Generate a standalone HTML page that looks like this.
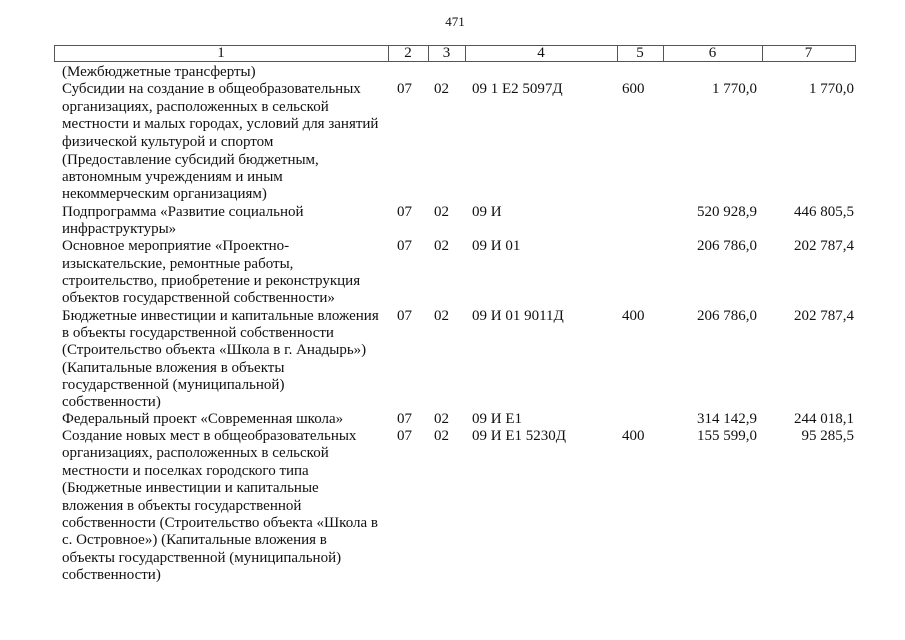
<!DOCTYPE html>
<html><head><meta charset="utf-8"><style>
body{margin:0;width:905px;height:640px;background:#fff;position:relative;overflow:hidden;font-family:"Liberation Serif",serif;font-size:15px;color:#111}
.t{position:absolute;white-space:nowrap;line-height:18px}
.r{text-align:right}
.c{text-align:center}
.ln{position:absolute;background:#555}
</style></head><body>
<div class="t c" style="left:430px;width:50px;top:13px;font-size:13px">471</div>
<div class="ln" style="left:54px;top:45px;width:802px;height:1px"></div>
<div class="ln" style="left:54px;top:61px;width:802px;height:1px"></div>
<div class="ln" style="left:54px;top:45px;width:1px;height:17px"></div>
<div class="ln" style="left:388px;top:45px;width:1px;height:17px"></div>
<div class="ln" style="left:428px;top:45px;width:1px;height:17px"></div>
<div class="ln" style="left:465px;top:45px;width:1px;height:17px"></div>
<div class="ln" style="left:617px;top:45px;width:1px;height:17px"></div>
<div class="ln" style="left:663px;top:45px;width:1px;height:17px"></div>
<div class="ln" style="left:762px;top:45px;width:1px;height:17px"></div>
<div class="ln" style="left:855px;top:45px;width:1px;height:17px"></div>
<div class="t c" style="left:54px;width:334px;top:44px">1</div>
<div class="t c" style="left:388px;width:40px;top:44px">2</div>
<div class="t c" style="left:428px;width:37px;top:44px">3</div>
<div class="t c" style="left:465px;width:152px;top:44px">4</div>
<div class="t c" style="left:617px;width:46px;top:44px">5</div>
<div class="t c" style="left:663px;width:99px;top:44px">6</div>
<div class="t c" style="left:762px;width:93px;top:44px">7</div>

<div class="t" style="left:62px;top:63px">(Межбюджетные трансферты)</div>
<div class="t" style="left:62px;top:80px">Субсидии на создание в общеобразовательных</div>
<div class="t" style="left:62px;top:98px">организациях, расположенных в сельской</div>
<div class="t" style="left:62px;top:115px">местности и малых городах, условий для занятий</div>
<div class="t" style="left:62px;top:133px">физической культурой и спортом</div>
<div class="t" style="left:62px;top:151px">(Предоставление субсидий бюджетным,</div>
<div class="t" style="left:62px;top:168px">автономным учреждениям и иным</div>
<div class="t" style="left:62px;top:185px">некоммерческим организациям)</div>
<div class="t" style="left:62px;top:203px">Подпрограмма «Развитие социальной</div>
<div class="t" style="left:62px;top:220px">инфраструктуры»</div>
<div class="t" style="left:62px;top:237px">Основное мероприятие «Проектно-</div>
<div class="t" style="left:62px;top:255px">изыскательские, ремонтные работы,</div>
<div class="t" style="left:62px;top:272px">строительство, приобретение и реконструкция</div>
<div class="t" style="left:62px;top:289px">объектов государственной собственности»</div>
<div class="t" style="left:62px;top:307px">Бюджетные инвестиции и капитальные вложения</div>
<div class="t" style="left:62px;top:324px">в объекты государственной собственности</div>
<div class="t" style="left:62px;top:341px">(Строительство объекта «Школа в г. Анадырь»)</div>
<div class="t" style="left:62px;top:359px">(Капитальные вложения в объекты</div>
<div class="t" style="left:62px;top:376px">государственной (муниципальной)</div>
<div class="t" style="left:62px;top:393px">собственности)</div>
<div class="t" style="left:62px;top:410px">Федеральный проект «Современная школа»</div>
<div class="t" style="left:62px;top:427px">Создание новых мест в общеобразовательных</div>
<div class="t" style="left:62px;top:444px">организациях, расположенных в сельской</div>
<div class="t" style="left:62px;top:462px">местности и поселках городского типа</div>
<div class="t" style="left:62px;top:479px">(Бюджетные инвестиции и капитальные</div>
<div class="t" style="left:62px;top:497px">вложения в объекты государственной</div>
<div class="t" style="left:62px;top:514px">собственности (Строительство объекта «Школа в</div>
<div class="t" style="left:62px;top:531px">с. Островное») (Капитальные вложения в</div>
<div class="t" style="left:62px;top:549px">объекты государственной (муниципальной)</div>
<div class="t" style="left:62px;top:566px">собственности)</div>

<!-- row: Субсидии -->
<div class="t" style="left:397px;top:80px">07</div><div class="t" style="left:434px;top:80px">02</div>
<div class="t" style="left:472px;top:80px">09 1 Е2 5097Д</div><div class="t" style="left:622px;top:80px">600</div>
<div class="t r" style="left:660px;width:97px;top:80px">1 770,0</div><div class="t r" style="left:760px;width:94px;top:80px">1 770,0</div>
<!-- Подпрограмма -->
<div class="t" style="left:397px;top:203px">07</div><div class="t" style="left:434px;top:203px">02</div>
<div class="t" style="left:472px;top:203px">09 И</div>
<div class="t r" style="left:660px;width:97px;top:203px">520 928,9</div><div class="t r" style="left:760px;width:94px;top:203px">446 805,5</div>
<!-- Основное -->
<div class="t" style="left:397px;top:237px">07</div><div class="t" style="left:434px;top:237px">02</div>
<div class="t" style="left:472px;top:237px">09 И 01</div>
<div class="t r" style="left:660px;width:97px;top:237px">206 786,0</div><div class="t r" style="left:760px;width:94px;top:237px">202 787,4</div>
<!-- Бюджетные -->
<div class="t" style="left:397px;top:307px">07</div><div class="t" style="left:434px;top:307px">02</div>
<div class="t" style="left:472px;top:307px">09 И 01 9011Д</div><div class="t" style="left:622px;top:307px">400</div>
<div class="t r" style="left:660px;width:97px;top:307px">206 786,0</div><div class="t r" style="left:760px;width:94px;top:307px">202 787,4</div>
<!-- Федеральный -->
<div class="t" style="left:397px;top:410px">07</div><div class="t" style="left:434px;top:410px">02</div>
<div class="t" style="left:472px;top:410px">09 И Е1</div>
<div class="t r" style="left:660px;width:97px;top:410px">314 142,9</div><div class="t r" style="left:760px;width:94px;top:410px">244 018,1</div>
<!-- Создание -->
<div class="t" style="left:397px;top:427px">07</div><div class="t" style="left:434px;top:427px">02</div>
<div class="t" style="left:472px;top:427px">09 И Е1 5230Д</div><div class="t" style="left:622px;top:427px">400</div>
<div class="t r" style="left:660px;width:97px;top:427px">155 599,0</div><div class="t r" style="left:760px;width:94px;top:427px">95 285,5</div>
</body></html>
